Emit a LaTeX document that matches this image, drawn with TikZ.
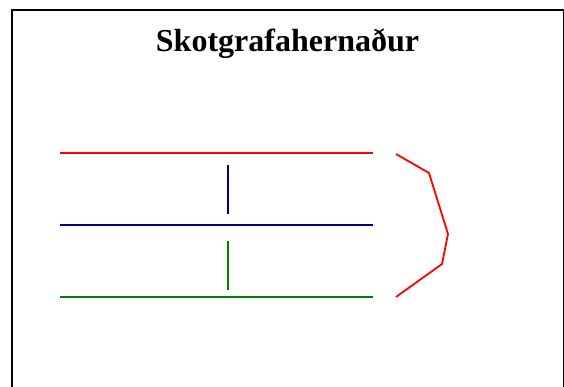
\documentclass[tikz,border=0pt]{standalone}
\usepackage{fontspec}
\setmainfont{Liberation Serif}
\definecolor{navy}{RGB}{0,0,128}
\definecolor{darkgreen}{RGB}{0,128,0}

\begin{document}
\begin{tikzpicture}[x=1pt,y=-1pt,line width=1.8pt]
	\useasboundingbox (0,0) rectangle (564,387);
	\draw[line width=2pt] (12,400) -- (12,10) -- (563.5,10) -- (563.5,400);
	\node[anchor=base,font=\fontsize{32}{38}\selectfont\bfseries] (title) at (287.5,52) {Skotgrafahernaður};
	% trenches
	\draw[red] (60,153) -- (373,153);
	\draw[navy] (60,225) -- (373,225);
	\draw[darkgreen] (60,297) -- (373,297);
	\draw[navy] (228,165) -- (228,214);
	\draw[darkgreen] (228,241) -- (228,290);
	\draw[red] (396,154) -- (429,173) -- (448,234) -- (442,264) -- (396,297);
\end{tikzpicture}
\end{document}
